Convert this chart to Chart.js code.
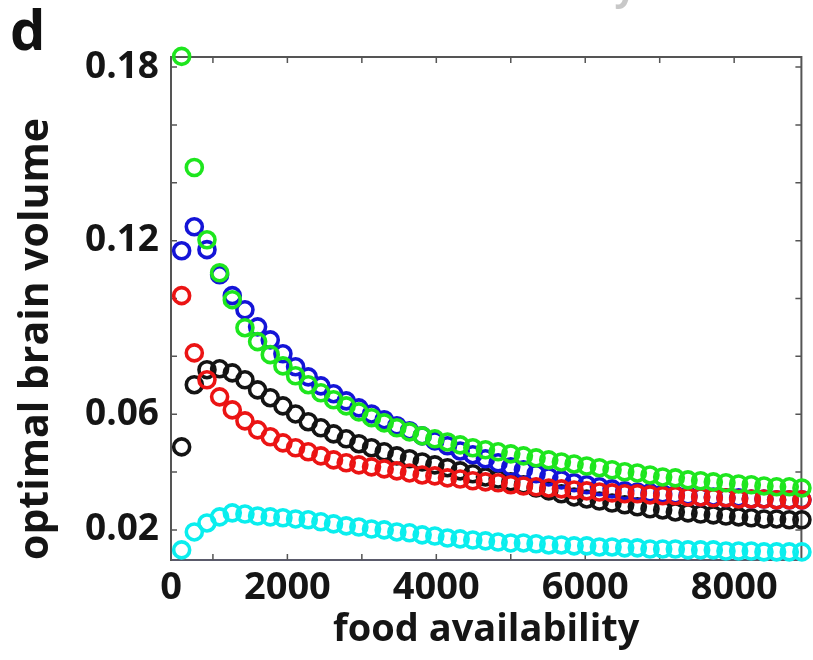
<!DOCTYPE html>
<html><head><meta charset="utf-8">
<script src="https://cdn.jsdelivr.net/npm/chart.js@4/dist/chart.umd.min.js"></script>
<style>html,body{margin:0;padding:0;background:#fff}#wrap{width:813px;height:660px}</style>
</head><body><div id="wrap"><canvas id="c" width="813" height="660"></canvas></div>
<script>
const foodAvailability = [580,750,920,1090,1260,1430,1600,1770,1940,2110,2280,2450,2620,2790,2960,3130,3300,3470,3640,3810,3980,4150,4320,4490,4660,4830,5000,5170,5340,5510,5680,5850,6020,6190,6360,6530,6700,6870,7040,7210,7380,7550,7720,7890,8060,8230,8400,8570,8740,8910];
const greenSeries = [0.1837,0.1453,0.1203,0.1089,0.0996,0.0899,0.0851,0.0806,0.0767,0.0733,0.0702,0.0674,0.0650,0.0629,0.0608,0.0588,0.0570,0.0553,0.0539,0.0525,0.0515,0.0504,0.0494,0.0484,0.0477,0.0470,0.0463,0.0456,0.0449,0.0442,0.0435,0.0428,0.0421,0.0415,0.0408,0.0401,0.0397,0.0390,0.0383,0.0380,0.0373,0.0370,0.0366,0.0363,0.0359,0.0356,0.0352,0.0349,0.0349,0.0345];
const blueSeries = [0.1165,0.1248,0.1169,0.1082,0.1010,0.0961,0.0902,0.0857,0.0809,0.0764,0.0729,0.0698,0.0671,0.0646,0.0622,0.0601,0.0581,0.0560,0.0543,0.0525,0.0508,0.0491,0.0473,0.0460,0.0446,0.0432,0.0418,0.0408,0.0394,0.0383,0.0373,0.0363,0.0356,0.0349,0.0342,0.0335,0.0331,0.0328,0.0325,0.0321,0.0318,0.0314,0.0314,0.0311,0.0311,0.0307,0.0307,0.0304,0.0304,0.0304];
const redSeries = [0.1010,0.0812,0.0719,0.0660,0.0615,0.0577,0.0546,0.0522,0.0501,0.0484,0.0470,0.0456,0.0442,0.0432,0.0425,0.0418,0.0411,0.0404,0.0397,0.0390,0.0387,0.0380,0.0376,0.0370,0.0366,0.0363,0.0356,0.0352,0.0349,0.0345,0.0342,0.0338,0.0335,0.0331,0.0328,0.0325,0.0325,0.0321,0.0318,0.0318,0.0314,0.0314,0.0311,0.0311,0.0307,0.0307,0.0307,0.0304,0.0304,0.0304];
const blackSeries = [0.0487,0.0702,0.0754,0.0757,0.0743,0.0719,0.0684,0.0657,0.0629,0.0601,0.0574,0.0553,0.0532,0.0515,0.0498,0.0484,0.0470,0.0456,0.0446,0.0435,0.0425,0.0415,0.0404,0.0394,0.0383,0.0376,0.0366,0.0356,0.0345,0.0335,0.0325,0.0314,0.0307,0.0300,0.0293,0.0287,0.0280,0.0273,0.0269,0.0262,0.0259,0.0255,0.0252,0.0248,0.0245,0.0242,0.0238,0.0238,0.0235,0.0235];
const cyanSeries = [0.0131,0.0193,0.0224,0.0245,0.0259,0.0255,0.0248,0.0245,0.0242,0.0238,0.0235,0.0228,0.0221,0.0214,0.0210,0.0203,0.0200,0.0193,0.0190,0.0183,0.0179,0.0172,0.0169,0.0165,0.0162,0.0158,0.0155,0.0155,0.0152,0.0148,0.0148,0.0145,0.0145,0.0141,0.0141,0.0138,0.0138,0.0134,0.0134,0.0134,0.0131,0.0131,0.0131,0.0127,0.0127,0.0127,0.0124,0.0124,0.0124,0.0124];

const xTickValues = [437, 2000, 4000, 6000, 8000];
const xTickLabels = ['0', '2000', '4000', '6000', '8000'];
const yTickValues = [0.02, 0.06, 0.12, 0.18];
const yTickLabels = ['0.02', '0.06', '0.12', '0.18'];
const xMinorTicks = [1000, 2000, 3000, 4000, 5000, 6000, 7000, 8000];
const yMinorTicks = [0.02, 0.04, 0.06, 0.08, 0.10, 0.12, 0.14, 0.16, 0.18];

const FONT = "'Open Sans', 'DejaVu Sans', sans-serif";

function pts(ys) { return foodAvailability.map((x, i) => ({ x: x, y: ys[i] })); }
function ds(label, ys, color) {
  return { label: label, data: pts(ys), showLine: false, pointStyle: 'circle', pointRadius: 8, pointHoverRadius: 8,
    pointBorderWidth: 3.6, borderColor: color, backgroundColor: 'rgba(0,0,0,0)', pointBackgroundColor: 'rgba(0,0,0,0)', clip: false };
}

const framePlugin = {
  id: 'frame',
  beforeDatasetsDraw(chart) {
    const { ctx, chartArea: a, scales: { x, y } } = chart;
    ctx.save();
    ctx.strokeStyle = '#555';
    ctx.lineWidth = 2;
    ctx.beginPath();
    ctx.moveTo(a.left, a.top); ctx.lineTo(a.right, a.top); ctx.lineTo(a.right, a.bottom);
    ctx.stroke();
    ctx.lineWidth = 1.5;
    ctx.beginPath();
    xMinorTicks.forEach(v => {
      const px = x.getPixelForValue(v);
      ctx.moveTo(px, a.bottom); ctx.lineTo(px, a.bottom - 6);
      ctx.moveTo(px, a.top); ctx.lineTo(px, a.top + 6);
    });
    yMinorTicks.forEach(v => {
      const py = y.getPixelForValue(v);
      ctx.moveTo(a.left, py); ctx.lineTo(a.left + 6, py);
      ctx.moveTo(a.right, py); ctx.lineTo(a.right - 6, py);
    });
    ctx.stroke();
    ctx.restore();
  },
  afterDraw(chart) {
    const { ctx } = chart;
    ctx.save();
    ctx.fillStyle = '#111';
    ctx.font = "bold 56px " + FONT;
    ctx.textBaseline = 'alphabetic';
    ctx.textAlign = 'left';
    ctx.fillText('d', 10, 50);
    ctx.fillStyle = '#c8c8c8';
    ctx.font = "bold 38px " + FONT;
    ctx.textAlign = 'center';
    ctx.fillText('food availability', 483, 0);
    ctx.restore();
  }
};

new Chart(document.getElementById('c'), {
  type: 'scatter',
  data: {
    datasets: [
      ds('green', greenSeries, 'rgb(30,230,30)'),
      ds('red', redSeries, 'rgb(235,20,20)'),
      ds('blue', blueSeries, 'rgb(20,20,215)'),
      ds('black', blackSeries, 'rgb(20,20,20)'),
      ds('cyan', cyanSeries, 'rgb(10,238,238)')
    ]
  },
  options: {
    responsive: false,
    animation: false,
    devicePixelRatio: 1,
    layout: { padding: { top: 57, right: 7, left: 0, bottom: 0 } },
    plugins: { legend: { display: false }, tooltip: { enabled: false } },
    scales: {
      x: {
        type: 'linear', position: 'bottom', min: 437, max: 8903,
        afterBuildTicks: s => { s.ticks = xTickValues.map(v => ({ value: v })); },
        afterFit: s => { s.height = 100; },
        ticks: { callback: (v, i) => xTickLabels[i], autoSkip: false, maxRotation: 0, padding: 5,
          color: '#151515', font: { family: FONT, weight: 'bold', size: 38 } },
        grid: { display: false, drawTicks: false },
        border: { display: true, color: '#5a5a6a', width: 2 },
        title: { display: true, text: 'food availability', color: '#151515', padding: { top: 0, bottom: 7 },
          font: { family: FONT, weight: 'bold', size: 38 } }
      },
      y: {
        type: 'linear', position: 'left', min: 0.0096, max: 0.1835,
        afterBuildTicks: s => { s.ticks = yTickValues.map(v => ({ value: v })); },
        afterFit: s => { s.width = 171; },
        ticks: { callback: (v, i) => yTickLabels[i], autoSkip: false, padding: 12,
          color: '#151515', font: { family: FONT, weight: 'bold', size: 37 } },
        grid: { display: false, drawTicks: false },
        border: { display: true, color: '#555', width: 2 },
        title: { display: true, text: 'optimal brain volume', align: 'start', color: '#151515', padding: { top: 12, bottom: 0 },
          font: { family: FONT, weight: 'bold', size: 41 } }
      }
    }
  },
  plugins: [framePlugin]
});
</script>
</body></html>
